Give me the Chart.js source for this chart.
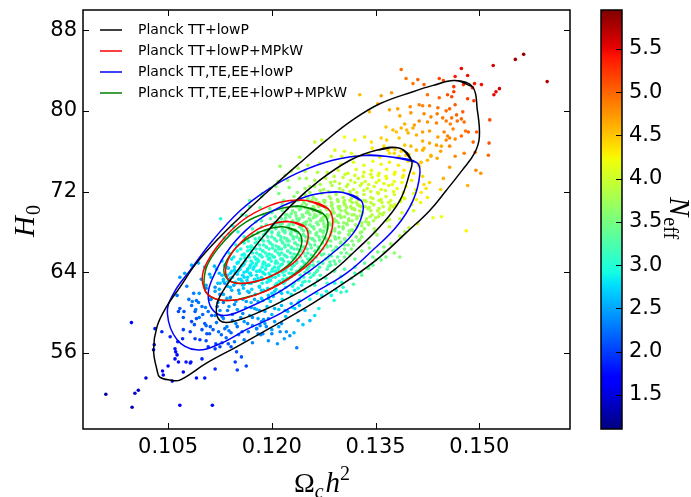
<!DOCTYPE html>
<html>
<head>
<meta charset="utf-8">
<script src="https://cdn.jsdelivr.net/npm/chart.js@4.4.1/dist/chart.umd.min.js"></script>
<style>
  html, body { margin: 0; padding: 0; background: #fff; overflow: hidden; }
  #chart { display: block; }
</style>
</head>
<body>
<canvas id="chart" width="691" height="497"></canvas>
<script>
// Axis ranges and ticks
const omegaRange = [0.0927, 0.1631];
const h0Range = [48.45, 90.0];
const neffRange = [1.107, 5.95];
const omegaTicks = [0.105, 0.120, 0.135, 0.150];
const h0Ticks = [56, 64, 72, 80, 88];
const neffTicks = [1.5, 2.0, 2.5, 3.0, 3.5, 4.0, 4.5, 5.0, 5.5];

const legendLabels = ['Planck TT+lowP', 'Planck TT+lowP+MPkW', 'Planck TT,TE,EE+lowP', 'Planck TT,TE,EE+lowP+MPkW'];

// Chain samples: [omega_c h^2, H0, N_eff]
const tailSamples = [
  [0.0960,51.9,1.25],[0.0998,50.6,1.35],[0.1002,52.0,1.40],[0.1007,52.3,1.40],[0.1018,53.5,1.50],[0.1067,50.8,1.60],
  [0.1114,50.8,1.75],[0.0997,59.0,1.70],[0.1030,56.8,1.75],[0.1029,56.3,1.70],[0.1042,54.2,1.60],[0.1050,54.7,1.70],
  [0.1043,53.8,1.60],[0.1056,53.2,1.60],[0.1072,54.1,1.70],[0.1083,55.1,1.80],[0.1091,53.5,1.75],[0.1103,53.5,1.80],
  [0.1118,54.4,1.90],[0.1099,55.4,1.85],[0.1060,56.4,1.80],[0.1061,56.1,1.75],[0.1063,55.8,1.70],[0.1064,57.1,1.85],
  [0.1071,57.4,1.90],[0.1076,55.1,1.80],[0.1082,55.0,1.80],[0.1031,58.4,1.85],[0.1053,57.6,1.85],[0.1041,58.1,1.90],
  [0.1060,55.4,1.75],[0.1065,55.1,1.75],[0.1150,54.3,2.00],[0.1163,54.7,2.05],[0.1147,55.1,2.00],[0.1156,55.6,2.10],
  [0.1149,56.1,2.10],[0.1141,56.6,2.10],[0.1137,56.9,2.10],[0.1125,56.6,2.05],[0.1108,56.6,2.00],[0.1118,56.4,2.00]
];

const lowerSamples = [
  [0.1067,60.4,2.10],[0.1065,60.1,2.05],[0.1073,60.1,2.10],[0.1089,60.1,2.15],[0.1091,59.4,2.10],[0.1084,59.1,2.05],
  [0.1099,58.3,2.10],[0.1106,57.9,2.10],[0.1089,57.4,2.00],[0.1096,57.3,2.00],[0.1067,63.5,2.45],[0.1074,63.9,2.50],
  [0.1084,64.7,2.55],[0.1094,64.9,2.60],[0.1103,64.5,2.60],[0.1126,69.3,2.95],[0.1063,61.7,2.25],[0.1087,61.9,2.30],
  [0.1091,61.2,2.25],[0.1084,60.7,2.20],[0.1099,60.6,2.25],[0.1072,58.3,2.00],[0.1082,58.1,2.00],[0.1108,60.1,2.25],
  [0.1113,59.7,2.20],[0.1103,58.9,2.15],[0.1111,58.6,2.15],[0.1115,58.3,2.15],[0.1123,58.1,2.20],[0.1127,57.8,2.20],
  [0.1132,58.4,2.25],
  [0.1118,62.5,2.40],[0.1125,61.8,2.35],[0.1132,62.9,2.45],[0.1140,61.5,2.40],[0.1146,60.8,2.35],[0.1152,62.2,2.50],
  [0.1158,59.9,2.35],[0.1163,61.1,2.45],[0.1170,60.5,2.45],[0.1121,60.6,2.30],[0.1128,59.6,2.25],[0.1136,60.2,2.30],
  [0.1143,59.2,2.30],[0.1150,58.6,2.25],[0.1157,58.1,2.30],[0.1165,58.9,2.35],[0.1172,59.5,2.40],[0.1178,58.4,2.35],
  [0.1134,57.5,2.20],[0.1141,58.0,2.20],[0.1112,61.3,2.30],[0.1105,62.4,2.35],[0.1098,63.3,2.45],[0.1110,63.8,2.50],
  [0.1117,64.6,2.60],[0.1124,63.9,2.55],[0.1137,64.4,2.60],[0.1130,61.0,2.30],[0.1145,62.7,2.50],[0.1160,62.8,2.55],
  [0.1167,62.0,2.50],[0.1175,61.3,2.50],[0.1182,60.2,2.45],[0.1188,59.3,2.40],[0.1184,57.8,2.35],[0.1192,58.6,2.40],
  [0.1100,59.8,2.20],[0.1094,61.0,2.25],[0.1077,62.6,2.35],[0.1080,61.3,2.25],[0.1072,59.5,2.10],[0.1088,58.8,2.10],
  [0.1105,57.2,2.05],[0.1119,56.9,2.10],[0.1128,57.0,2.15],
  [0.1236,56.5,2.30],[0.1226,57.7,2.40],[0.1221,58.1,2.40],[0.1212,58.1,2.40],[0.1200,57.9,2.35],[0.1187,57.9,2.35],
  [0.1214,58.9,2.45],[0.1204,59.1,2.45],[0.1195,59.4,2.45],[0.1238,59.2,2.55],[0.1248,60.2,2.65],[0.1255,59.2,2.60],
  [0.1233,60.4,2.65],[0.1240,60.7,2.70],[0.1228,60.9,2.65],[0.1272,61.7,2.85],[0.1279,62.1,2.90],[0.1286,61.7,2.90],
  [0.1293,62.2,2.95],[0.1303,62.5,3.00],[0.1308,62.1,3.00],[0.1291,62.9,3.00],[0.1301,63.0,3.05],[0.1315,63.4,3.15],
  [0.1320,63.9,3.20],[0.1329,64.0,3.25],[0.1339,64.4,3.30],[0.1346,64.7,3.35],[0.1358,65.2,3.45],[0.1365,65.5,3.50],
  [0.1377,65.9,3.60],[0.1385,65.5,3.60],[0.1346,65.5,3.40],[0.1353,66.0,3.45],[0.1334,64.9,3.30],[0.1320,64.5,3.25],
  [0.1362,66.5,3.55],[0.1372,66.8,3.60],[0.1387,67.5,3.70],[0.1392,68.0,3.75],[0.1185,59.1,2.40],[0.1183,58.7,2.40],
  [0.1178,58.4,2.35],[0.1190,60.1,2.50],[0.1204,60.4,2.55],[0.1214,60.7,2.60],[0.1223,60.1,2.60],[0.1175,60.4,2.50],
  [0.1180,61.1,2.55],[0.1187,61.2,2.60],[0.1195,61.4,2.60],[0.1202,61.6,2.65],[0.1185,62.2,2.70],[0.1195,61.7,2.65],
  [0.1204,62.1,2.70],[0.1214,61.9,2.70],[0.1223,62.0,2.75],[0.1233,62.2,2.80],[0.1243,62.7,2.85]
];

// samples on both flanks of the main ridge
const flankSamples = [
  [0.1168,71.1,3.32],[0.1186,71.8,3.43],[0.1206,72.5,3.54],[0.1223,73.1,3.65],[0.1157,69.7,3.18],[0.1142,68.6,3.05],
  [0.1177,69.0,3.20],[0.1197,70.3,3.37],[0.1217,71.1,3.49],[0.1237,71.9,3.61],[0.1255,72.5,3.72],[0.1131,67.4,2.93],
  [0.1151,68.0,3.04],[0.1240,73.3,3.72],[0.1266,73.9,3.85],[0.1188,69.7,3.29],
  [0.1305,66.7,3.49],[0.1327,67.2,3.59],[0.1349,68.0,3.73],[0.1284,65.0,3.29],[0.1313,65.7,3.44],[0.1266,63.2,3.10],
  [0.1291,64.2,3.26],[0.1240,61.2,2.87],[0.1219,60.2,2.72],[0.1370,69.2,3.89],[0.1341,66.4,3.59]
];

const coreLowSamples = [
  [0.1146,57.1,2.25],[0.1160,57.3,2.30],[0.1172,57.0,2.33],[0.1195,57.2,2.42],[0.1208,56.9,2.45],[0.1218,57.4,2.50],
  [0.1110,57.9,2.15],[0.1138,58.2,2.28],[0.1152,57.8,2.30],[0.1166,58.1,2.36],[0.1180,57.9,2.40],[0.1200,58.3,2.50],[0.1232,58.0,2.58],
  [0.1105,58.7,2.20],[0.1120,59.0,2.27],[0.1135,58.6,2.30],[0.1148,58.9,2.36],[0.1160,59.1,2.42],[0.1172,58.7,2.44],[0.1190,58.9,2.50],[0.1210,58.6,2.55],[0.1245,58.8,2.68],
  [0.1095,59.5,2.25],[0.1118,59.7,2.32],[0.1130,59.4,2.35],[0.1143,59.8,2.42],[0.1155,59.5,2.44],[0.1168,59.7,2.50],[0.1180,59.4,2.52],[0.1200,59.8,2.60],[0.1220,59.6,2.66],[0.1262,59.7,2.80],
  [0.1090,60.3,2.30],[0.1104,60.5,2.35],[0.1125,60.2,2.40],[0.1138,60.6,2.46],[0.1150,60.3,2.49],[0.1162,60.5,2.54],[0.1178,60.3,2.60],[0.1193,60.6,2.66],[0.1210,60.3,2.70],[0.1230,60.5,2.78],[0.1268,60.4,2.90],
  [0.1085,61.1,2.33],[0.1110,61.3,2.43],[0.1122,61.0,2.46],[0.1135,61.4,2.52],[0.1148,61.1,2.55],[0.1158,61.3,2.59],[0.1170,61.0,2.62],[0.1185,61.4,2.69],[0.1198,61.1,2.72],[0.1215,61.3,2.79],[0.1238,61.0,2.85],[0.1255,61.3,2.92],[0.1290,61.2,3.04],
  [0.1095,61.9,2.42],[0.1118,62.1,2.51],[0.1130,61.8,2.54],[0.1142,62.2,2.60],[0.1153,61.9,2.62],[0.1165,62.1,2.67],[0.1176,61.8,2.70],[0.1188,62.2,2.76],[0.1200,61.9,2.78],[0.1212,62.1,2.84],[0.1228,61.8,2.87],[0.1248,62.1,2.96],[0.1265,61.9,3.00],[0.1300,62.0,3.13],
  [0.1124,62.3,2.55],[0.1140,62.5,2.61],[0.1159,62.4,2.68],[0.1171,62.3,2.72],[0.1182,62.5,2.76],[0.1194,62.4,2.80],[0.1206,62.3,2.84],[0.1220,62.5,2.89],[0.1238,62.4,2.95],
  [0.1105,62.7,2.50],[0.1122,62.9,2.58],[0.1136,62.6,2.61],[0.1147,63.0,2.67],[0.1158,62.7,2.69],[0.1170,62.9,2.74],[0.1182,62.6,2.77],[0.1193,63.0,2.83],[0.1205,62.7,2.86],[0.1217,62.9,2.91],[0.1230,62.6,2.94],[0.1245,63.0,3.02],[0.1262,62.7,3.06],[0.1280,62.9,3.14],[0.1318,62.8,3.27],
  [0.1130,63.1,2.63],[0.1152,63.3,2.70],[0.1164,63.2,2.74],[0.1176,63.1,2.79],[0.1187,63.3,2.82],[0.1198,63.2,2.86],[0.1211,63.1,2.91],[0.1223,63.3,2.95],[0.1238,63.2,3.00],[0.1254,63.1,3.06],
  [0.1112,63.5,2.59],[0.1128,63.7,2.65],[0.1140,63.4,2.68],[0.1150,63.8,2.73],[0.1160,63.5,2.76],[0.1170,63.7,2.80],[0.1180,63.4,2.82],[0.1190,63.8,2.87],[0.1200,63.5,2.89],[0.1210,63.7,2.94],[0.1222,63.4,2.96],[0.1233,63.8,3.02],[0.1246,63.5,3.05],[0.1260,63.7,3.11],[0.1278,63.4,3.16],[0.1300,63.6,3.25],[0.1330,63.7,3.36]
];

const coreMidSamples = [
  [0.1140,63.9,2.72],[0.1151,64.1,2.76],[0.1160,64.0,2.79],[0.1169,63.9,2.82],[0.1178,64.1,2.85],[0.1187,64.0,2.88],[0.1196,63.9,2.92],[0.1205,64.1,2.95],[0.1215,64.0,2.98],[0.1225,63.9,3.02],[0.1236,64.1,3.06],[0.1248,64.0,3.10],[0.1262,63.9,3.15],[0.1290,64.1,3.25],
  [0.1120,64.3,2.66],[0.1135,64.5,2.73],[0.1146,64.2,2.75],[0.1156,64.6,2.80],[0.1165,64.3,2.82],[0.1174,64.5,2.86],[0.1183,64.2,2.88],[0.1192,64.6,2.93],[0.1201,64.3,2.95],[0.1210,64.5,2.99],[0.1220,64.2,3.01],[0.1230,64.6,3.07],[0.1241,64.3,3.09],[0.1253,64.5,3.14],[0.1266,64.2,3.17],[0.1282,64.6,3.25],[0.1305,64.3,3.30],[0.1340,64.4,3.43],
  [0.1132,64.7,2.75],[0.1150,64.9,2.81],[0.1160,64.8,2.85],[0.1169,64.7,2.88],[0.1178,64.9,2.91],[0.1187,64.8,2.94],[0.1196,64.7,2.98],[0.1205,64.9,3.01],[0.1215,64.8,3.04],[0.1225,64.7,3.08],[0.1236,64.9,3.12],[0.1247,64.8,3.15],[0.1260,64.7,3.20],[0.1274,64.9,3.25],[0.1292,64.8,3.31],
  [0.1128,65.1,2.75],[0.1142,65.3,2.80],[0.1152,65.0,2.82],[0.1161,65.4,2.87],[0.1170,65.1,2.89],[0.1179,65.3,2.93],[0.1188,65.0,2.95],[0.1197,65.4,3.00],[0.1206,65.1,3.02],[0.1215,65.3,3.06],[0.1224,65.0,3.08],[0.1234,65.4,3.13],[0.1244,65.1,3.15],[0.1255,65.3,3.20],[0.1267,65.0,3.23],[0.1281,65.4,3.30],[0.1298,65.1,3.34],[0.1320,65.3,3.42],[0.1350,65.2,3.52],
  [0.1145,65.5,2.85],[0.1157,65.7,2.89],[0.1166,65.6,2.92],[0.1175,65.5,2.95],[0.1184,65.7,2.98],[0.1193,65.6,3.02],[0.1202,65.5,3.05],[0.1211,65.7,3.08],[0.1220,65.6,3.11],[0.1229,65.5,3.14],[0.1239,65.7,3.18],[0.1249,65.6,3.21],[0.1260,65.5,3.25],[0.1272,65.7,3.29],[0.1286,65.6,3.34],[0.1305,65.5,3.41],
  [0.1138,65.9,2.84],[0.1150,66.1,2.89],[0.1160,65.8,2.91],[0.1169,66.2,2.96],[0.1178,65.9,2.98],[0.1187,66.1,3.02],[0.1196,65.8,3.04],[0.1205,66.2,3.09],[0.1214,65.9,3.11],[0.1223,66.1,3.15],[0.1232,65.8,3.17],[0.1242,66.2,3.22],[0.1252,65.9,3.24],[0.1263,66.1,3.29],[0.1275,65.8,3.32],[0.1290,66.2,3.39],[0.1308,65.9,3.43],[0.1330,66.1,3.52],[0.1362,66.0,3.62],
  [0.1155,66.3,2.94],[0.1165,66.5,2.98],[0.1174,66.4,3.01],[0.1183,66.3,3.04],[0.1192,66.5,3.07],[0.1201,66.4,3.10],[0.1210,66.3,3.14],[0.1219,66.5,3.17],[0.1228,66.4,3.20],[0.1237,66.3,3.23],[0.1247,66.5,3.26],[0.1257,66.4,3.30],[0.1268,66.3,3.34],[0.1280,66.5,3.38],[0.1295,66.4,3.43],[0.1315,66.3,3.50],
  [0.1148,66.7,2.95],[0.1160,66.9,3.00],[0.1170,66.6,3.02],[0.1179,67.0,3.07],[0.1188,66.7,3.09],[0.1197,66.9,3.13],[0.1206,66.6,3.15],[0.1215,67.0,3.20],[0.1224,66.7,3.22],[0.1233,66.9,3.26],[0.1242,66.6,3.28],[0.1252,67.0,3.33],[0.1262,66.7,3.35],[0.1273,66.9,3.40],[0.1285,66.6,3.43],[0.1300,67.0,3.50],[0.1318,66.7,3.54],[0.1340,66.9,3.63],[0.1372,66.8,3.73],
  [0.1166,67.1,3.03],[0.1176,67.3,3.07],[0.1186,67.2,3.10],[0.1195,67.1,3.13],[0.1204,67.3,3.16],[0.1213,67.2,3.20],[0.1222,67.1,3.23],[0.1231,67.3,3.26],[0.1240,67.2,3.29],[0.1249,67.1,3.32],[0.1259,67.3,3.36],[0.1269,67.2,3.39],[0.1280,67.1,3.43],[0.1292,67.3,3.47],[0.1306,67.2,3.52],[0.1325,67.1,3.59],
  [0.1160,67.5,3.04],[0.1172,67.7,3.09],[0.1182,67.4,3.11],[0.1191,67.8,3.16],[0.1200,67.5,3.18],[0.1209,67.7,3.22],[0.1218,67.4,3.24],[0.1227,67.8,3.29],[0.1236,67.5,3.31],[0.1245,67.7,3.35],[0.1254,67.4,3.37],[0.1264,67.8,3.42],[0.1274,67.5,3.44],[0.1285,67.7,3.49],[0.1297,67.4,3.52],[0.1312,67.8,3.59],[0.1330,67.5,3.63],[0.1352,67.7,3.72],[0.1385,67.6,3.83],
  [0.1180,67.9,3.14],[0.1190,68.1,3.17],[0.1200,68.0,3.21],[0.1210,67.9,3.24],[0.1219,68.1,3.28],[0.1228,68.0,3.31],[0.1237,67.9,3.34],[0.1246,68.1,3.37],[0.1255,68.0,3.40],[0.1265,67.9,3.44],[0.1275,68.1,3.47],[0.1286,68.0,3.51],[0.1298,67.9,3.55],[0.1312,68.1,3.60],[0.1330,68.0,3.67],
  [0.1172,68.3,3.14],[0.1185,68.5,3.19],[0.1195,68.2,3.21],[0.1205,68.6,3.27],[0.1215,68.3,3.29],[0.1224,68.5,3.33],[0.1233,68.2,3.35],[0.1242,68.6,3.40],[0.1251,68.3,3.42],[0.1260,68.5,3.46],[0.1270,68.2,3.48],[0.1280,68.6,3.53],[0.1291,68.3,3.56],[0.1303,68.5,3.61],[0.1316,68.2,3.64],[0.1330,68.6,3.71],[0.1348,68.3,3.76],[0.1370,68.5,3.85],[0.1398,68.4,3.95],
  [0.1192,68.7,3.24],[0.1204,68.9,3.28],[0.1215,68.8,3.32],[0.1225,68.7,3.36],[0.1235,68.9,3.39],[0.1245,68.8,3.43],[0.1255,68.7,3.46],[0.1265,68.9,3.50],[0.1275,68.8,3.53],[0.1285,68.7,3.57],[0.1296,68.9,3.61],[0.1308,68.8,3.65],[0.1321,68.7,3.69],[0.1340,68.9,3.76],
  [0.1185,69.1,3.23],[0.1198,69.3,3.29],[0.1210,69.0,3.31],[0.1220,69.4,3.37],[0.1230,69.1,3.39],[0.1240,69.3,3.43],[0.1250,69.0,3.45],[0.1260,69.4,3.50],[0.1270,69.1,3.52],[0.1280,69.3,3.57],[0.1290,69.0,3.59],[0.1300,69.4,3.64],[0.1311,69.1,3.67],[0.1323,69.3,3.72],[0.1336,69.0,3.75],[0.1350,69.4,3.82],[0.1366,69.1,3.86],[0.1385,69.3,3.94],
  [0.1205,69.5,3.34],[0.1220,69.7,3.39],[0.1235,69.6,3.44],[0.1245,69.5,3.48],[0.1255,69.7,3.51],[0.1265,69.6,3.55],[0.1275,69.5,3.58],[0.1285,69.7,3.62],[0.1295,69.6,3.65],[0.1305,69.5,3.69],[0.1316,69.7,3.73],[0.1328,69.6,3.77],[0.1342,69.5,3.82],[0.1360,69.7,3.88]
];

// densest part of the chain, between the rows above
const coreFillSamples = [
  [0.1125,62.9,2.67],[0.1137,63.1,2.71],[0.1148,62.9,2.75],[0.1157,63.1,2.78],[0.1167,62.9,2.81],[0.1177,63.1,2.84],[0.1186,62.9,2.87],[0.1196,63.1,2.91],[0.1207,62.9,2.94],[0.1219,63.1,2.99],[0.1232,62.9,3.03],[0.1248,63.1,3.09],
  [0.1130,63.3,2.65],[0.1143,63.5,2.69],[0.1155,63.3,2.73],[0.1165,63.5,2.77],[0.1175,63.3,2.80],[0.1185,63.5,2.84],[0.1195,63.3,2.87],[0.1205,63.5,2.91],[0.1216,63.3,2.95],[0.1227,63.5,2.98],[0.1240,63.3,3.03],[0.1256,63.5,3.09],
  [0.1136,63.7,2.70],[0.1147,63.9,2.73],[0.1158,63.7,2.77],[0.1168,63.9,2.81],[0.1178,63.7,2.84],[0.1188,63.9,2.88],[0.1198,63.7,2.91],[0.1208,63.9,2.95],[0.1218,63.7,2.98],[0.1229,63.9,3.02],[0.1241,63.7,3.06],[0.1254,63.9,3.11],[0.1270,63.7,3.17],
  [0.1142,64.1,2.74],[0.1154,64.3,2.78],[0.1164,64.1,2.81],[0.1173,64.3,2.85],[0.1182,64.1,2.88],[0.1191,64.3,2.91],[0.1200,64.1,2.94],[0.1209,64.3,2.97],[0.1218,64.1,3.00],[0.1228,64.3,3.04],[0.1239,64.1,3.08],[0.1251,64.3,3.12],[0.1265,64.1,3.17],[0.1280,64.3,3.22],
  [0.1146,64.5,2.78],[0.1158,64.7,2.82],[0.1168,64.5,2.86],[0.1177,64.7,2.89],[0.1186,64.5,2.92],[0.1195,64.7,2.95],[0.1204,64.5,2.98],[0.1213,64.7,3.02],[0.1222,64.5,3.05],[0.1232,64.7,3.08],[0.1243,64.5,3.12],[0.1255,64.7,3.16],[0.1269,64.5,3.21],[0.1285,64.7,3.27],
  [0.1150,64.9,2.83],[0.1162,65.1,2.87],[0.1172,64.9,2.90],[0.1181,65.1,2.93],[0.1190,64.9,2.97],[0.1199,65.1,3.00],[0.1208,64.9,3.03],[0.1217,65.1,3.06],[0.1226,64.9,3.09],[0.1236,65.1,3.13],[0.1247,64.9,3.16],[0.1259,65.1,3.21],[0.1273,64.9,3.26],[0.1290,65.1,3.32],
  [0.1155,65.3,2.87],[0.1167,65.5,2.91],[0.1177,65.3,2.95],[0.1186,65.5,2.98],[0.1195,65.3,3.01],[0.1204,65.5,3.04],[0.1213,65.3,3.08],[0.1222,65.5,3.11],[0.1231,65.3,3.14],[0.1241,65.5,3.17],[0.1252,65.3,3.21],[0.1264,65.5,3.25],[0.1278,65.3,3.30],[0.1295,65.5,3.36],
  [0.1160,65.7,2.92],[0.1172,65.9,2.96],[0.1182,65.7,2.99],[0.1191,65.9,3.02],[0.1200,65.7,3.06],[0.1209,65.9,3.09],[0.1218,65.7,3.12],[0.1227,65.9,3.15],[0.1236,65.7,3.19],[0.1246,65.9,3.22],[0.1257,65.7,3.26],[0.1269,65.9,3.30],[0.1283,65.7,3.35],[0.1300,65.9,3.41],
  [0.1165,66.1,2.96],[0.1177,66.3,3.00],[0.1187,66.1,3.03],[0.1196,66.3,3.07],[0.1205,66.1,3.10],[0.1214,66.3,3.13],[0.1223,66.1,3.16],[0.1232,66.3,3.19],[0.1241,66.1,3.22],[0.1251,66.3,3.26],[0.1262,66.1,3.30],[0.1274,66.3,3.34],[0.1288,66.1,3.39],[0.1305,66.3,3.45],
  [0.1170,66.5,3.01],[0.1182,66.7,3.05],[0.1192,66.5,3.08],[0.1201,66.7,3.11],[0.1210,66.5,3.15],[0.1219,66.7,3.18],[0.1228,66.5,3.21],[0.1237,66.7,3.24],[0.1246,66.5,3.27],[0.1256,66.7,3.31],[0.1267,66.5,3.34],[0.1279,66.7,3.39],[0.1293,66.5,3.44],[0.1310,66.7,3.50],
  [0.1176,66.9,3.06],[0.1188,67.1,3.10],[0.1198,66.9,3.13],[0.1207,67.1,3.16],[0.1216,66.9,3.20],[0.1225,67.1,3.23],[0.1234,66.9,3.26],[0.1243,67.1,3.29],[0.1252,66.9,3.32],[0.1262,67.1,3.36],[0.1273,66.9,3.40],[0.1285,67.1,3.44],[0.1299,66.9,3.49],[0.1316,67.1,3.55],
  [0.1182,67.3,3.11],[0.1194,67.5,3.15],[0.1204,67.3,3.18],[0.1213,67.5,3.22],[0.1222,67.3,3.25],[0.1231,67.5,3.28],[0.1240,67.3,3.31],[0.1249,67.5,3.34],[0.1258,67.3,3.37],[0.1268,67.5,3.41],[0.1279,67.3,3.45],[0.1291,67.5,3.49],[0.1305,67.3,3.54],[0.1322,67.5,3.60],
  [0.1188,67.7,3.16],[0.1200,67.9,3.20],[0.1210,67.7,3.24],[0.1219,67.9,3.27],[0.1228,67.7,3.30],[0.1237,67.9,3.33],[0.1246,67.7,3.36],[0.1255,67.9,3.39],[0.1264,67.7,3.42],[0.1274,67.9,3.46],[0.1285,67.7,3.50],[0.1297,67.9,3.54],[0.1311,67.7,3.59],[0.1328,67.9,3.65],
  [0.1194,68.1,3.20],[0.1206,68.3,3.24],[0.1216,68.1,3.28],[0.1225,68.3,3.31],[0.1234,68.1,3.34],[0.1243,68.3,3.37],[0.1252,68.1,3.41],[0.1261,68.3,3.44],[0.1270,68.1,3.47],[0.1280,68.3,3.50],[0.1291,68.1,3.54],[0.1303,68.3,3.58],[0.1317,68.1,3.63],[0.1334,68.3,3.69],
  [0.1200,68.5,3.25],[0.1212,68.7,3.29],[0.1222,68.5,3.33],[0.1231,68.7,3.36],[0.1240,68.5,3.39],[0.1249,68.7,3.42],[0.1258,68.5,3.45],[0.1267,68.7,3.48],[0.1276,68.5,3.52],[0.1286,68.7,3.55],[0.1297,68.5,3.59],[0.1309,68.7,3.63],[0.1323,68.5,3.68],[0.1340,68.7,3.74],
  [0.1207,68.9,3.30],[0.1219,69.1,3.35],[0.1229,68.9,3.38],[0.1238,69.1,3.41],[0.1247,68.9,3.44],[0.1256,69.1,3.48],[0.1265,68.9,3.51],[0.1274,69.1,3.54],[0.1283,68.9,3.57],[0.1293,69.1,3.61],[0.1304,68.9,3.64],[0.1316,69.1,3.69],[0.1330,68.9,3.74],[0.1347,69.1,3.80],
  [0.1214,69.3,3.36],[0.1226,69.5,3.40],[0.1236,69.3,3.44],[0.1245,69.5,3.47],[0.1254,69.3,3.50],[0.1263,69.5,3.53],[0.1272,69.3,3.56],[0.1281,69.5,3.59],[0.1290,69.3,3.63],[0.1300,69.5,3.66],[0.1311,69.3,3.70],[0.1323,69.5,3.74],[0.1337,69.3,3.79],[0.1354,69.5,3.85],
  [0.1222,69.7,3.42],[0.1234,69.9,3.46],[0.1244,69.7,3.49],[0.1253,69.9,3.53],[0.1262,69.7,3.56],[0.1271,69.9,3.59],[0.1280,69.7,3.62],[0.1289,69.9,3.65],[0.1298,69.7,3.68],[0.1308,69.9,3.72],[0.1319,69.7,3.76],[0.1331,69.9,3.80],[0.1345,69.7,3.85],[0.1362,69.9,3.91],
  [0.1230,70.1,3.47],[0.1242,70.3,3.51],[0.1252,70.1,3.54],[0.1261,70.3,3.57],[0.1270,70.1,3.61],[0.1279,70.3,3.64],[0.1288,70.1,3.67],[0.1297,70.3,3.70],[0.1306,70.1,3.73],[0.1316,70.3,3.77],[0.1327,70.1,3.81],[0.1339,70.3,3.85],[0.1353,70.1,3.90],[0.1370,70.3,3.96],
  [0.1238,70.5,3.52],[0.1250,70.7,3.57],[0.1260,70.5,3.60],[0.1269,70.7,3.63],[0.1278,70.5,3.66],[0.1287,70.7,3.69],[0.1296,70.5,3.73],[0.1305,70.7,3.76],[0.1314,70.5,3.79],[0.1324,70.7,3.82],[0.1335,70.5,3.86],[0.1347,70.7,3.90],[0.1361,70.5,3.95],[0.1378,70.7,4.01],
  [0.1246,70.9,3.58],[0.1258,71.1,3.62],[0.1268,70.9,3.66],[0.1277,71.1,3.69],[0.1286,70.9,3.72],[0.1295,71.1,3.75],[0.1304,70.9,3.78],[0.1313,71.1,3.82],[0.1322,70.9,3.85],[0.1332,71.1,3.88],[0.1343,70.9,3.92],[0.1355,71.1,3.96],[0.1369,70.9,4.01],[0.1386,71.1,4.07]
];

const coreHighSamples = [
  [0.1200,69.9,3.34],[0.1215,70.1,3.40],[0.1228,69.8,3.43],[0.1240,70.2,3.49],[0.1250,69.9,3.51],[0.1260,70.1,3.56],[0.1270,69.8,3.58],[0.1280,70.2,3.63],[0.1290,69.9,3.65],[0.1300,70.1,3.70],[0.1310,69.8,3.72],[0.1320,70.2,3.77],[0.1331,69.9,3.80],[0.1343,70.1,3.85],[0.1356,69.8,3.88],[0.1370,70.2,3.95],[0.1388,69.9,4.00],[0.1405,70.1,4.07],
  [0.1222,70.3,3.46],[0.1236,70.5,3.51],[0.1248,70.4,3.55],[0.1258,70.3,3.58],[0.1268,70.5,3.62],[0.1278,70.4,3.65],[0.1288,70.3,3.69],[0.1298,70.5,3.72],[0.1308,70.4,3.76],[0.1318,70.3,3.79],[0.1329,70.5,3.83],[0.1341,70.4,3.87],[0.1355,70.3,3.92],[0.1375,70.5,3.99],
  [0.1215,70.7,3.45],[0.1230,70.9,3.51],[0.1243,70.6,3.54],[0.1255,71.0,3.60],[0.1266,70.7,3.63],[0.1276,70.9,3.67],[0.1286,70.6,3.69],[0.1296,71.0,3.74],[0.1306,70.7,3.76],[0.1316,70.9,3.81],[0.1326,70.6,3.83],[0.1336,71.0,3.88],[0.1347,70.7,3.91],[0.1359,70.9,3.96],[0.1372,70.6,3.99],[0.1386,71.0,4.06],[0.1402,70.7,4.10],
  [0.1238,71.1,3.56],[0.1252,71.3,3.61],[0.1264,71.2,3.65],[0.1275,71.1,3.69],[0.1285,71.3,3.73],[0.1295,71.2,3.76],[0.1305,71.1,3.80],[0.1315,71.3,3.83],[0.1325,71.2,3.87],[0.1335,71.1,3.90],[0.1346,71.3,3.94],[0.1358,71.2,3.98],[0.1372,71.1,4.03],[0.1392,71.3,4.10],
  [0.1232,71.5,3.57],[0.1248,71.7,3.63],[0.1260,71.4,3.66],[0.1272,71.8,3.72],[0.1283,71.5,3.75],[0.1293,71.7,3.79],[0.1303,71.4,3.81],[0.1313,71.8,3.86],[0.1323,71.5,3.88],[0.1333,71.7,3.93],[0.1343,71.4,3.95],[0.1354,71.8,4.00],[0.1365,71.5,4.03],[0.1377,71.7,4.08],[0.1390,71.4,4.11],[0.1405,71.8,4.18],
  [0.1255,71.9,3.68],[0.1270,72.1,3.74],[0.1282,72.0,3.78],[0.1293,71.9,3.82],[0.1303,72.1,3.86],[0.1313,72.0,3.89],[0.1323,71.9,3.93],[0.1333,72.1,3.96],[0.1343,72.0,4.00],[0.1353,71.9,4.03],[0.1364,72.1,4.07],[0.1376,72.0,4.11],[0.1390,71.9,4.16],
  [0.1248,72.3,3.69],[0.1262,72.5,3.75],[0.1275,72.2,3.78],[0.1287,72.6,3.84],[0.1298,72.3,3.87],[0.1308,72.5,3.91],[0.1318,72.2,3.93],[0.1328,72.6,3.98],[0.1338,72.3,4.00],[0.1348,72.5,4.05],[0.1358,72.2,4.07],[0.1369,72.6,4.12],[0.1381,72.3,4.15],[0.1394,72.5,4.20],[0.1408,72.2,4.23],
  [0.1270,72.7,3.80],[0.1285,72.9,3.85],[0.1298,72.8,3.89],[0.1310,72.7,3.94],[0.1320,72.9,3.97],[0.1330,72.8,4.01],[0.1340,72.7,4.04],[0.1351,72.9,4.08],[0.1362,72.8,4.12],[0.1374,72.7,4.16],[0.1388,72.9,4.21],
  [0.1262,73.1,3.80],[0.1278,73.3,3.86],[0.1291,73.0,3.89],[0.1303,73.4,3.95],[0.1314,73.1,3.98],[0.1325,73.3,4.02],[0.1335,73.0,4.04],[0.1345,73.4,4.09],[0.1355,73.1,4.11],[0.1366,73.3,4.16],[0.1377,73.0,4.18],[0.1389,73.4,4.24],[0.1402,73.1,4.27],
  [0.1290,73.5,3.92],[0.1306,73.7,3.97],[0.1320,73.6,4.02],[0.1332,73.5,4.06],[0.1343,73.7,4.10],[0.1354,73.6,4.14],[0.1365,73.5,4.18],[0.1377,73.7,4.22],[0.1390,73.6,4.27],
  [0.1280,73.9,3.93],[0.1296,74.1,3.99],[0.1310,73.8,4.02],[0.1322,74.2,4.08],[0.1333,73.9,4.10],[0.1344,74.1,4.15],[0.1355,73.8,4.17],[0.1366,74.2,4.22],[0.1378,73.9,4.25],[0.1391,74.1,4.30],[0.1405,73.8,4.33],
  [0.1300,74.7,4.05],[0.1318,74.9,4.12],[0.1333,74.6,4.15],[0.1346,75.0,4.21],[0.1358,74.7,4.24],[0.1370,74.9,4.29],[0.1383,74.6,4.32],[0.1397,75.0,4.38],[0.1412,74.7,4.42],
  [0.1320,75.5,4.16],[0.1340,75.7,4.23],[0.1356,75.4,4.27],[0.1370,75.8,4.34],[0.1384,75.5,4.38],[0.1398,75.7,4.44],[0.1430,75.6,4.55],
  [0.1345,76.3,4.30],[0.1362,76.5,4.37],[0.1378,76.2,4.42],[0.1392,76.6,4.48],[0.1420,76.3,4.55],[0.1445,76.5,4.65],
  [0.1366,77.1,4.45],[0.1384,77.3,4.50],[0.1418,77.0,4.60],[0.1440,77.4,4.70],[0.1465,77.2,4.80],
  [0.1380,77.9,4.52],[0.1395,78.1,4.57],[0.1428,78.0,4.70],[0.1462,78.2,4.85],[0.1480,78.0,4.92],
  [0.1392,78.7,4.60],[0.1425,78.9,4.75],[0.1458,78.7,4.85],[0.1478,78.9,4.95],
  [0.1385,79.5,4.65],[0.1420,79.7,4.80],[0.1430,79.4,4.82],[0.1460,79.3,4.92],
  [0.1400,80.4,4.80],[0.1428,80.5,4.88],[0.1465,80.6,5.05]
];

const upperSamples = [
  [0.1327,81.6,4.55],[0.1358,81.5,4.70],[0.1370,80.1,4.65],[0.1382,80.2,4.70],[0.1401,79.8,4.75],[0.1341,79.9,4.55],
  [0.1353,80.7,4.60],[0.1365,78.4,4.50],[0.1375,78.1,4.55],[0.1387,78.3,4.60],[0.1397,77.8,4.60],[0.1404,78.3,4.65],
  [0.1305,77.4,4.20],[0.1320,77.1,4.25],[0.1334,77.4,4.35],[0.1344,76.9,4.35],[0.1358,77.3,4.45],[0.1262,76.9,3.95],
  [0.1272,77.1,4.00],[0.1291,76.1,4.05],[0.1305,76.0,4.10],[0.1286,75.5,4.00],[0.1301,75.5,4.10],[0.1315,75.8,4.15],
  [0.1368,76.1,4.40],[0.1377,75.8,4.40],[0.1387,76.0,4.45],[0.1394,75.6,4.45],[0.1401,76.5,4.55],[0.1219,73.6,3.70],
  [0.1209,73.0,3.60],[0.1228,74.0,3.75],[0.1238,74.3,3.80],[0.1248,74.0,3.80],[0.1197,72.3,3.55],[0.1185,71.5,3.45],
  [0.1204,72.6,3.60],[0.1269,74.8,3.95],[0.1252,74.6,3.85],[0.1373,81.8,4.75],[0.1240,75.4,3.85],[0.1212,74.5,3.70],
  [0.1168,70.5,3.30],[0.1183,70.4,3.35],[0.1163,69.6,3.20],[0.1145,68.5,3.05],[0.1138,67.8,2.95],[0.1210,71.8,3.50],
  [0.1225,72.4,3.60],[0.1250,73.3,3.75],
  [0.1418,73.5,4.40],[0.1420,72.7,4.35],[0.1428,72.9,4.40],[0.1423,72.3,4.35],[0.1416,71.9,4.30],[0.1409,71.2,4.25],
  [0.1415,70.9,4.25],[0.1425,71.4,4.30],[0.1444,72.2,4.45],[0.1413,74.5,4.40],[0.1481,68.1,4.25],[0.1433,69.4,4.15],
  [0.1445,69.5,4.20],[0.1411,68.8,4.05]
];

const topSamples = [
  [0.1387,84.1,4.95],[0.1394,83.2,4.90],[0.1404,82.7,4.90],[0.1474,84.2,5.50],[0.1465,83.4,5.40],[0.1483,83.5,5.45],
  [0.1520,84.5,5.60],[0.1552,85.1,5.80],[0.1564,85.6,5.85],[0.1598,82.9,5.75],[0.1529,82.2,5.55],[0.1524,81.9,5.50],
  [0.1521,81.6,5.50],[0.1503,82.6,5.45],[0.1493,82.7,5.40],[0.1490,82.3,5.35],[0.1477,82.6,5.30],[0.1463,82.4,5.25],
  [0.1463,81.9,5.20],[0.1460,81.4,5.15],[0.1454,81.6,5.10],[0.1442,83.2,5.15],[0.1448,83.0,5.15],[0.1411,83.1,5.00],
  [0.1420,82.6,5.00],[0.1425,81.6,4.95],[0.1442,81.3,5.00],[0.1483,81.2,5.20],[0.1492,81.0,5.25],[0.1413,80.6,4.85],
  [0.1418,80.5,4.85],[0.1440,80.3,4.95],[0.1452,80.0,4.95],[0.1457,80.2,5.00],[0.1467,79.6,5.00],[0.1476,79.9,5.05],
  [0.1439,79.7,4.90],[0.1447,79.3,4.90],[0.1515,79.1,5.15],[0.1474,79.2,5.00],[0.1468,79.0,4.95],[0.1452,79.0,4.90],
  [0.1438,78.8,4.85],[0.1413,79.0,4.80],[0.1449,77.9,4.85],[0.1454,77.5,4.85],[0.1457,77.3,4.85],[0.1452,77.1,4.80],
  [0.1474,77.5,4.95],[0.1484,77.9,5.00],[0.1496,77.9,5.05],[0.1491,76.9,5.00],[0.1494,75.9,4.95],[0.1478,75.8,4.85],
  [0.1514,76.8,5.10],[0.1438,76.6,4.70],[0.1428,76.8,4.65],[0.1418,76.1,4.60],[0.1409,76.1,4.55],[0.1457,76.5,4.80],
  [0.1444,76.0,4.70],[0.1439,75.3,4.65],[0.1430,75.5,4.60],[0.1425,75.1,4.55],[0.1416,74.9,4.50],[0.1465,75.5,4.80],
  [0.1513,75.6,5.00],[0.1457,74.4,4.70],[0.1448,73.3,4.60],[0.1495,74.1,4.80],[0.1502,73.8,4.75],[0.1483,72.6,4.60],
  [0.1406,78.6,4.70],[0.1409,77.6,4.60],[0.1418,77.9,4.70]
];

// 68% / 95% contours: [omega_c h^2, H0]
const ttLowP95 = [
  [0.1464,83.0],[0.1490,82.4],[0.1497,80.1],[0.1500,77.4],[0.1493,75.8],[0.1475,74.1],[0.1452,72.1],[0.1428,70.1],
  [0.1394,67.9],[0.1356,65.5],[0.1317,63.5],[0.1259,60.9],[0.1201,58.6],[0.1149,56.6],[0.1106,55.0],[0.1067,53.3],
  [0.1053,53.3],[0.1038,53.6],[0.1034,54.3],[0.1029,56.3],[0.1034,58.6],[0.1048,60.6],[0.1067,62.5],[0.1091,64.9],
  [0.1125,67.5],[0.1164,70.1],[0.1202,72.5],[0.1240,74.8],[0.1279,77.1],[0.1317,79.1],[0.1356,80.7],[0.1404,81.9],
  [0.1432,82.5]
];
const ttLowP68 = [
  [0.1385,76.3],[0.1402,75.1],[0.1399,73.8],[0.1385,71.1],[0.1356,68.5],[0.1322,66.2],[0.1284,63.9],[0.1236,61.9],
  [0.1187,60.2],[0.1144,59.1],[0.1125,59.2],[0.1120,60.6],[0.1130,62.2],[0.1154,64.5],[0.1187,67.5],[0.1226,70.5],
  [0.1269,73.1],[0.1313,75.1],[0.1351,76.1]
];
const ttLowPMpk95 = [
  [0.1250,71.1],[0.1281,70.3],[0.1288,68.8],[0.1279,66.9],[0.1255,64.9],[0.1221,63.2],[0.1183,61.9],[0.1139,61.2],
  [0.1111,61.6],[0.1100,62.9],[0.1103,64.5],[0.1125,66.9],[0.1159,69.2],[0.1197,70.6],[0.1226,71.1]
];
const ttLowPMpk68 = [
  [0.1226,69.0],[0.1248,68.5],[0.1252,67.2],[0.1240,65.5],[0.1216,64.2],[0.1183,63.2],[0.1149,62.9],[0.1135,63.5],
  [0.1135,64.9],[0.1149,66.5],[0.1178,68.2],[0.1207,68.9]
];
const fullLowP95 = [
  [0.1375,75.4],[0.1409,74.9],[0.1414,73.8],[0.1404,71.1],[0.1380,68.5],[0.1346,66.2],[0.1308,63.9],[0.1260,61.9],
  [0.1212,59.9],[0.1163,58.3],[0.1125,56.9],[0.1091,56.3],[0.1063,57.3],[0.1049,59.9],[0.1058,61.9],[0.1082,64.2],
  [0.1115,67.2],[0.1154,70.1],[0.1192,72.1],[0.1236,73.8],[0.1288,75.1],[0.1337,75.6]
];
const fullLowP68 = [
  [0.1303,71.9],[0.1329,71.1],[0.1331,69.8],[0.1317,67.8],[0.1288,65.9],[0.1250,63.9],[0.1207,61.9],[0.1163,60.4],
  [0.1130,59.7],[0.1113,60.4],[0.1108,61.9],[0.1115,63.5],[0.1134,65.9],[0.1163,68.2],[0.1202,70.1],[0.1250,71.5],
  [0.1279,71.9]
];
const fullLowPMpk95 = [
  [0.1245,70.5],[0.1274,69.8],[0.1281,68.5],[0.1269,66.5],[0.1245,64.5],[0.1212,62.9],[0.1173,61.7],[0.1130,61.2],
  [0.1106,61.9],[0.1102,63.2],[0.1108,64.9],[0.1130,67.0],[0.1163,69.0],[0.1202,70.1],[0.1226,70.5]
];
const fullLowPMpk68 = [
  [0.1216,68.5],[0.1238,68.0],[0.1243,66.8],[0.1231,65.2],[0.1207,63.9],[0.1173,63.0],[0.1144,63.0],[0.1131,63.9],
  [0.1135,65.2],[0.1154,66.8],[0.1183,68.0],[0.1202,68.4]
];

// matplotlib 'jet' segment data
const jetRed = [[0, 0], [0.35, 0], [0.66, 1], [0.89, 1], [1, 0.5]];
const jetGreen = [[0, 0], [0.125, 0], [0.375, 1], [0.64, 1], [0.91, 0], [1, 0]];
const jetBlue = [[0, 0.5], [0.11, 1], [0.34, 1], [0.65, 0], [1, 0]];

function segValue(seg, t) {
  for (let i = 1; i < seg.length; i++) {
    if (t <= seg[i][0]) {
      const [t0, v0] = seg[i - 1], [t1, v1] = seg[i];
      return v0 + (v1 - v0) * (t - t0) / (t1 - t0);
    }
  }
  return seg[seg.length - 1][1];
}

function jetAt(t) {
  t = Math.min(1, Math.max(0, t));
  const r = Math.round(255 * segValue(jetRed, t));
  const g = Math.round(255 * segValue(jetGreen, t));
  const b = Math.round(255 * segValue(jetBlue, t));
  return `rgb(${r},${g},${b})`;
}

function neffColor(n) {
  return jetAt((n - neffRange[0]) / (neffRange[1] - neffRange[0]));
}

const allSamples = [].concat(tailSamples, lowerSamples, flankSamples, coreLowSamples, coreMidSamples, coreFillSamples,
                             coreHighSamples, upperSamples, topSamples);
const samplePoints = allSamples.map(s => ({ x: s[0], y: s[1] }));
const sampleColors = allSamples.map(s => neffColor(s[2]));

// closed contour: wrap neighbours so the spline joins smoothly
function closedLoop(pts) {
  const n = pts.length;
  const wrapped = [pts[n - 1]].concat(pts, [pts[0], pts[1]]);
  return wrapped.map(p => ({ x: p[0], y: p[1] }));
}

const contourSets = [
  { data: ttLowP95, color: '#000000' },
  { data: ttLowP68, color: '#000000' },
  { data: ttLowPMpk95, color: '#ff0000' },
  { data: ttLowPMpk68, color: '#ff0000' },
  { data: fullLowP95, color: '#0000ff' },
  { data: fullLowP68, color: '#0000ff' },
  { data: fullLowPMpk95, color: '#008000' },
  { data: fullLowPMpk68, color: '#008000' }
];
const legendColors = ['#000000', '#ff0000', '#0000ff', '#008000'];

const datasets = contourSets.map(c => ({
  data: closedLoop(c.data),
  showLine: true,
  borderColor: c.color,
  borderWidth: 1.5,
  pointRadius: 0,
  tension: 0.4,
  fill: false,
  order: 1
}));
datasets.push({
  data: samplePoints,
  showLine: false,
  pointRadius: 1.8,
  pointBorderWidth: 0,
  pointBackgroundColor: sampleColors,
  order: 5
});

const TICK_FONT = { family: '"DejaVu Sans", sans-serif', size: 21 };
const SERIF = '"Liberation Serif", "DejaVu Serif", serif';

function drawPieces(ctx, pieces, x, y) {
  let w = 0;
  pieces.forEach(p => { ctx.font = p[1]; w += ctx.measureText(p[0]).width + (p[3] || 0); });
  let cx = x - w / 2;
  pieces.forEach(p => {
    ctx.font = p[1];
    ctx.fillText(p[0], cx, y + p[2]);
    cx += ctx.measureText(p[0]).width + (p[3] || 0);
  });
}

function line(ctx, x1, y1, x2, y2) {
  ctx.beginPath();
  ctx.moveTo(x1, y1);
  ctx.lineTo(x2, y2);
  ctx.stroke();
}

// keep axis label overhang from pushing the plot area around
function noOverhang(s) {
  s.paddingTop = 0;
  s.paddingBottom = 0;
  s.paddingLeft = 0;
  s.paddingRight = 0;
}

const decorations = {
  id: 'decorations',
  afterDraw(chart) {
    const ctx = chart.ctx;
    const a = chart.chartArea;
    const xs = chart.scales.x, ys = chart.scales.y, cs = chart.scales.cbar;
    ctx.save();

    // frame and inward ticks
    ctx.strokeStyle = '#000';
    ctx.lineWidth = 1.5;
    ctx.strokeRect(a.left, a.top, a.right - a.left, a.bottom - a.top);
    ctx.lineWidth = 1;
    omegaTicks.forEach(v => {
      const x = Math.round(xs.getPixelForValue(v)) + 0.5;
      line(ctx, x, a.bottom, x, a.bottom - 6);
      line(ctx, x, a.top, x, a.top + 6);
    });
    h0Ticks.forEach(v => {
      const y = Math.round(ys.getPixelForValue(v)) + 0.5;
      line(ctx, a.left, y, a.left + 6, y);
      line(ctx, a.right, y, a.right - 6, y);
    });

    // colour bar
    const barL = a.right + 31, barR = a.right + 52;
    const yTop = cs.getPixelForValue(neffRange[1]), yBot = cs.getPixelForValue(neffRange[0]);
    const grad = ctx.createLinearGradient(0, yBot, 0, yTop);
    for (let i = 0; i <= 64; i++) grad.addColorStop(i / 64, jetAt(i / 64));
    ctx.fillStyle = grad;
    ctx.fillRect(barL, yTop, barR - barL, yBot - yTop);
    ctx.lineWidth = 1.5;
    ctx.strokeRect(barL, yTop, barR - barL, yBot - yTop);
    ctx.lineWidth = 1;
    neffTicks.forEach(v => {
      const y = Math.round(cs.getPixelForValue(v)) + 0.5;
      line(ctx, barR, y, barR - 6, y);
    });

    // legend
    ctx.font = '14px "DejaVu Sans", sans-serif';
    ctx.textBaseline = 'middle';
    ctx.textAlign = 'left';
    legendLabels.forEach((label, i) => {
      const y = a.top + 20 + i * 21;
      ctx.strokeStyle = legendColors[i];
      ctx.lineWidth = 1.5;
      line(ctx, a.left + 17, y, a.left + 39, y);
      ctx.fillStyle = '#000';
      ctx.fillText(label, a.left + 55, y);
    });

    // axis titles
    ctx.fillStyle = '#000';
    ctx.textBaseline = 'alphabetic';
    drawPieces(ctx, [
      ['\u03A9', '28px ' + SERIF, 0],
      ['c', 'italic 20px ' + SERIF, 6, 2],
      ['h', 'italic 29px ' + SERIF, 0],
      ['2', '20px ' + SERIF, -12]
    ], 322, 492);

    ctx.save();
    ctx.translate(34, 221);
    ctx.rotate(-Math.PI / 2);
    drawPieces(ctx, [
      ['H', 'italic 29px ' + SERIF, 0, 1],
      ['0', '20px ' + SERIF, 6]
    ], 0, 0);
    ctx.restore();

    ctx.save();
    ctx.translate(670, 218);
    ctx.rotate(Math.PI / 2);
    drawPieces(ctx, [
      ['N', 'italic 29px ' + SERIF, 0, 1],
      ['eff', '20px ' + SERIF, 6]
    ], 0, 0);
    ctx.restore();

    ctx.restore();
  }
};

new Chart(document.getElementById('chart'), {
  type: 'scatter',
  data: { datasets: datasets },
  options: {
    responsive: false,
    animation: false,
    devicePixelRatio: 1,
    events: [],
    layout: { padding: { top: 10, left: 0, right: 0, bottom: 0 } },
    plugins: { legend: { display: false }, tooltip: { enabled: false } },
    scales: {
      x: {
        type: 'linear',
        min: omegaRange[0],
        max: omegaRange[1],
        grid: { display: false, drawTicks: false },
        border: { display: false },
        afterBuildTicks: s => { s.ticks = omegaTicks.map(v => ({ value: v })); },
        afterFit: s => { s.height = 68; noOverhang(s); },
        ticks: { padding: 6, color: '#000', font: TICK_FONT, maxRotation: 0, autoSkip: false,
                 callback: v => Number(v).toFixed(3) }
      },
      y: {
        type: 'linear',
        min: h0Range[0],
        max: h0Range[1],
        grid: { display: false, drawTicks: false },
        border: { display: false },
        afterBuildTicks: s => { s.ticks = h0Ticks.map(v => ({ value: v })); },
        afterFit: s => { s.width = 83; noOverhang(s); },
        ticks: { padding: 6, color: '#000', font: TICK_FONT, autoSkip: false,
                 callback: v => String(v) }
      },
      cbar: {
        type: 'linear',
        position: 'right',
        min: neffRange[0],
        max: neffRange[1],
        grid: { display: false, drawTicks: false },
        border: { display: false },
        afterBuildTicks: s => { s.ticks = neffTicks.map(v => ({ value: v })); },
        afterFit: s => { s.width = 121; noOverhang(s); },
        ticks: { padding: 59, color: '#000', font: TICK_FONT, autoSkip: false,
                 callback: v => Number(v).toFixed(1) }
      }
    }
  },
  plugins: [decorations]
});
</script>
</body>
</html>
